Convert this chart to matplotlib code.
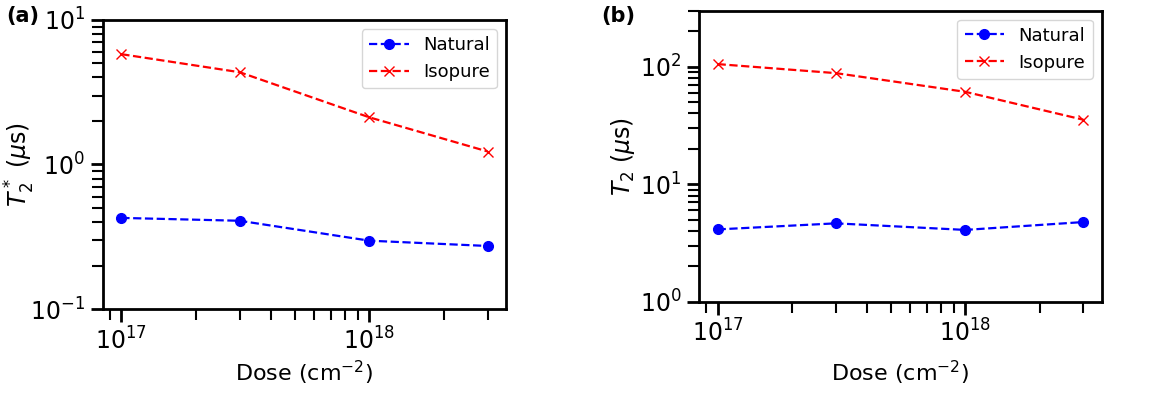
import matplotlib
matplotlib.use("Agg")
import matplotlib.pyplot as plt
import numpy as np

dose = [1e17, 3e17, 1e18, 3e18]
t2star_natural = [0.427, 0.408, 0.297, 0.273]
t2star_isopure = [5.8, 4.35, 2.12, 1.23]
t2_natural = [4.12, 4.64, 4.08, 4.76]
t2_isopure = [105, 88, 61, 35.3]

fig = plt.figure(figsize=(11.59, 3.95), dpi=100)
ax1 = fig.add_axes([0.0889, 0.2177, 0.3477, 0.7317])
ax2 = fig.add_axes([0.6034, 0.2362, 0.3472, 0.7372])

def style(ax, ylabel, ylx, xly):
    ax.set_xscale('log')
    ax.set_yscale('log')
    for s in ax.spines.values():
        s.set_linewidth(2)
    ax.tick_params(which='major', length=9, width=2, labelsize=17, pad=4)
    ax.tick_params(which='minor', length=8, width=1.5)
    ax.set_xlabel('Dose (cm$^{-2}$)', fontsize=16)
    ax.set_ylabel(ylabel, fontsize=17)
    ax.yaxis.set_label_coords(ylx, 0.5)
    ax.yaxis.label.set_va('center')
    ax.xaxis.set_label_coords(0.5, xly)
    ax.xaxis.label.set_va('center')
    ax.legend(loc='upper right', fontsize=13, handlelength=2.2)

for ax, nat, iso, ylab, ylim, ylx, xly in [
    (ax1, t2star_natural, t2star_isopure, r'$T_2^*$ ($\mu$s)', (0.1, 10), -0.206, -0.221),
    (ax2, t2_natural, t2_isopure, r'$T_2$ ($\mu$s)', (1, 300), -0.19, -0.245),
]:
    ax.plot(dose, nat, 'b--', marker='o', markersize=7, linewidth=1.6, label='Natural')
    ax.plot(dose, iso, 'r--', marker='x', markersize=7, linewidth=1.6, label='Isopure')
    ax.set_ylim(*ylim)
    style(ax, ylab, ylx, xly)

fig.text(0.005, 0.96, '(a)', fontsize=15, fontweight='bold', va='center')
fig.text(0.519, 0.96, '(b)', fontsize=15, fontweight='bold', va='center')

fig.savefig('out.png', dpi=100)
